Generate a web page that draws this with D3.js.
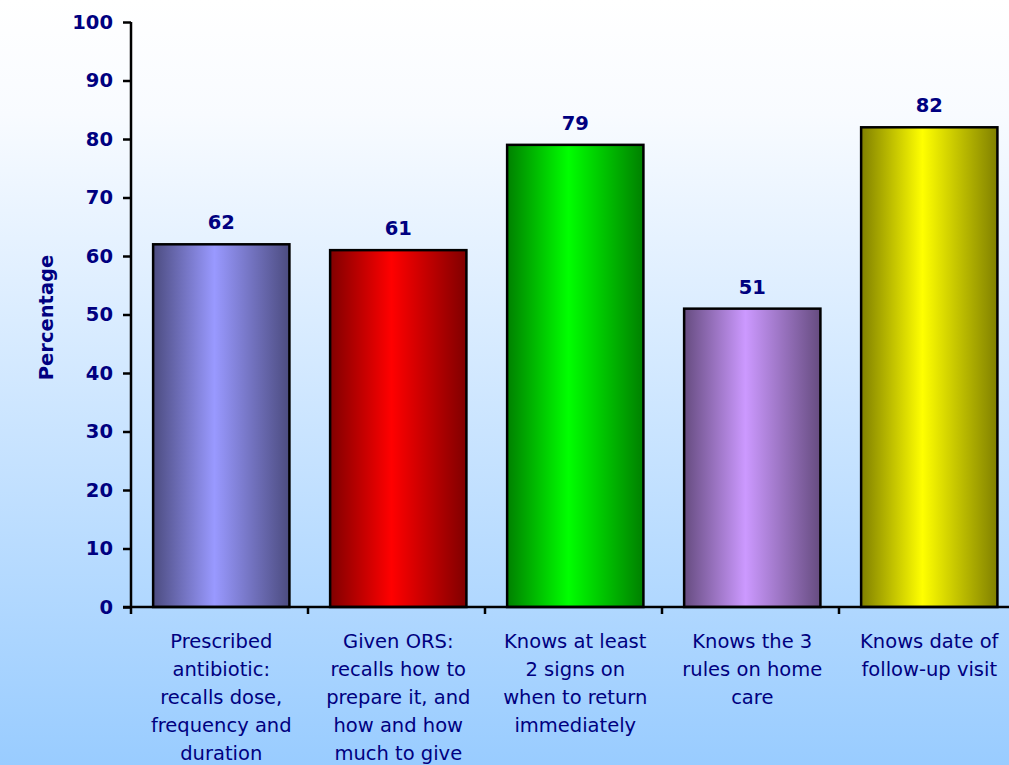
<!DOCTYPE html>
<html lang="en">
<head>
    <meta charset="UTF-8">
    <title>Percentage chart</title>
    <script src="https://d3js.org/d3.v7.min.js"></script>
    <style>
        html, body {
            margin: 0;
            padding: 0;
            overflow: hidden;
        }
        text {
            font-family: "DejaVu Sans", Verdana, sans-serif;
            fill: #000080;
        }
    </style>
</head>
<body>
    <div id="vis"></div>
    <script>
        // data
        var categories = [
            ["Prescribed", "antibiotic:", "recalls dose,", "frequency and", "duration"],
            ["Given ORS:", "recalls how to", "prepare it, and", "how and how", "much to give"],
            ["Knows at least", "2 signs on", "when to return", "immediately"],
            ["Knows the 3", "rules on home", "care"],
            ["Knows date of", "follow-up visit"]
        ];
        var values = [62, 61, 79, 51, 82];
        var yTicks = [0, 10, 20, 30, 40, 50, 60, 70, 80, 90, 100];
        var barColors = [
            ["#4c4c80", "#9999ff"],
            ["#800000", "#ff0000"],
            ["#008000", "#00ff00"],
            ["#664c80", "#cc99ff"],
            ["#808000", "#ffff00"]
        ];

        var W = 1009, H = 765;
        var margin = {top: 22, left: 131, bottom: 158};
        var plotH = H - margin.top - margin.bottom;
        var stepPx = 177;

        var svg = d3.select("#vis").append("svg")
            .attr("width", W)
            .attr("height", H);

        var defs = svg.append("defs");
        var bg = defs.append("linearGradient")
            .attr("id", "bg").attr("x1", 0).attr("y1", 0).attr("x2", 0).attr("y2", 1);
        bg.append("stop").attr("offset", "0%").attr("stop-color", "#ffffff");
        bg.append("stop").attr("offset", "15%").attr("stop-color", "#f8fbff");
        bg.append("stop").attr("offset", "100%").attr("stop-color", "#99ccff");

        barColors.forEach(function(c, i) {
            var g = defs.append("linearGradient")
                .attr("id", "bar" + i).attr("x1", 0).attr("y1", 0).attr("x2", 1).attr("y2", 0);
            g.append("stop").attr("offset", "0%").attr("stop-color", c[0]);
            g.append("stop").attr("offset", "45%").attr("stop-color", c[1]);
            g.append("stop").attr("offset", "100%").attr("stop-color", c[0]);
        });

        svg.append("rect")
            .attr("width", W).attr("height", H)
            .attr("fill", "url(#bg)");

        var x = d3.scaleBand()
            .domain(d3.range(categories.length))
            .range([margin.left, margin.left + stepPx * 5.02])
            .paddingInner(0.23)
            .paddingOuter(0.125);

        var y = d3.scaleLinear()
            .domain([0, 100])
            .range([margin.top + plotH, margin.top]);

        // bars
        svg.selectAll(".bar")
            .data(values)
            .enter().append("rect")
            .attr("class", "bar")
            .attr("x", function(d, i) { return x(i); })
            .attr("y", function(d) { return y(d); })
            .attr("width", x.bandwidth())
            .attr("height", function(d) { return y(0) - y(d); })
            .attr("fill", function(d, i) { return "url(#bar" + i + ")"; })
            .attr("stroke", "#000")
            .attr("stroke-width", 2.5);

        // value labels
        svg.selectAll(".val")
            .data(values)
            .enter().append("text")
            .attr("class", "val")
            .attr("x", function(d, i) { return x(i) + x.bandwidth() / 2; })
            .attr("y", function(d) { return y(d) - 15; })
            .attr("text-anchor", "middle")
            .style("font-size", "19.5px")
            .style("font-weight", "bold")
            .text(function(d) { return d; });

        // y axis
        var yAxis = svg.append("g")
            .attr("transform", "translate(" + margin.left + ",0)")
            .call(d3.axisLeft(y).tickValues(yTicks).tickSize(8).tickPadding(10));
        yAxis.selectAll("path, line").attr("stroke", "#000").attr("stroke-width", 2.5);
        yAxis.select(".domain").attr("d", "M0," + y(100) + "V" + y(0));
        yAxis.selectAll("text")
            .attr("fill", "#000080")
            .style("font-size", "19.5px")
            .style("font-weight", "bold")
            .style("font-family", "'DejaVu Sans', Verdana, sans-serif");

        // x axis line and ticks at band boundaries
        var bounds = d3.range(categories.length + 1).map(function(i) { return margin.left + i * stepPx; });
        svg.append("line")
            .attr("x1", margin.left - 8).attr("x2", W)
            .attr("y1", y(0)).attr("y2", y(0))
            .attr("stroke", "#000").attr("stroke-width", 2.5);
        svg.selectAll(".xtick")
            .data(bounds)
            .enter().append("line")
            .attr("x1", function(d) { return d; }).attr("x2", function(d) { return d; })
            .attr("y1", y(0)).attr("y2", y(0) + 7)
            .attr("stroke", "#000").attr("stroke-width", 2.5);

        // category labels
        var cat = svg.selectAll(".cat")
            .data(categories)
            .enter().append("text")
            .attr("class", "cat")
            .attr("text-anchor", "middle")
            .style("font-size", "19.5px");
        cat.selectAll("tspan")
            .data(function(d, i) { return d.map(function(t) { return {t: t, i: i}; }); })
            .enter().append("tspan")
            .attr("x", function(d) { return x(d.i) + x.bandwidth() / 2; })
            .attr("y", function(d, j) { return y(0) + 41 + j * 28; })
            .text(function(d) { return d.t; });

        // y axis title
        svg.append("text")
            .attr("transform", "translate(53," + (margin.top + plotH / 2 + 3) + ") rotate(-90)")
            .attr("text-anchor", "middle")
            .style("font-size", "19.5px")
            .style("font-weight", "bold")
            .text("Percentage");
    </script>
</body>
</html>
